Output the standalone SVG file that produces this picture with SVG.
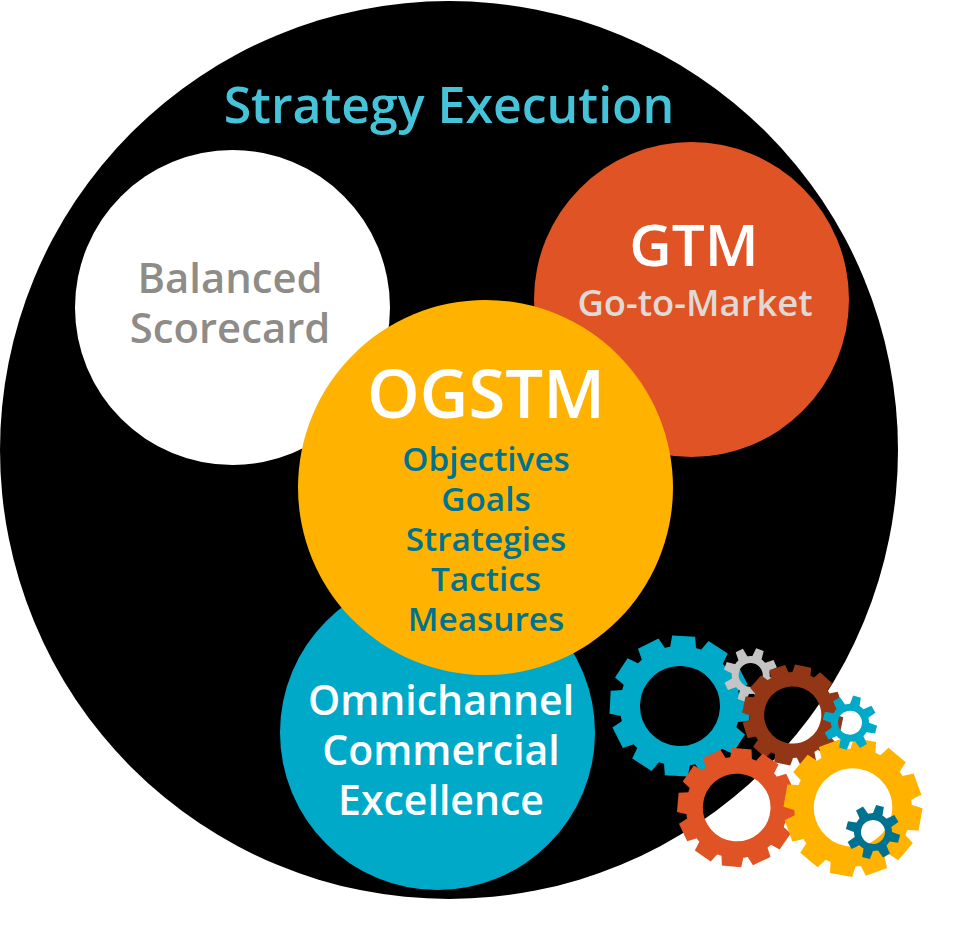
<svg xmlns="http://www.w3.org/2000/svg" width="963" height="941" viewBox="0 0 963 941">
<style>
text{font-family:"Open Sans","Liberation Sans",sans-serif;font-weight:600;text-anchor:middle}
.r{fill:none}
</style>
<defs>
<polygon id="t12" points="-13,-58 -11.500,-70 11.500,-70 13,-58"/>
<polygon id="t8" points="-5,-17 -4,-27 4,-27 5,-17"/>
<g id="g12"><circle class="r" r="50" stroke-width="20" stroke="currentColor"/>
<g fill="currentColor"><use href="#t12"/><use href="#t12" transform="rotate(30)"/><use href="#t12" transform="rotate(60)"/><use href="#t12" transform="rotate(90)"/><use href="#t12" transform="rotate(120)"/><use href="#t12" transform="rotate(150)"/><use href="#t12" transform="rotate(180)"/><use href="#t12" transform="rotate(210)"/><use href="#t12" transform="rotate(240)"/><use href="#t12" transform="rotate(270)"/><use href="#t12" transform="rotate(300)"/><use href="#t12" transform="rotate(330)"/></g></g>
<g id="g8"><circle class="r" r="15.500" stroke-width="7" stroke="currentColor"/>
<g fill="currentColor"><use href="#t8"/><use href="#t8" transform="rotate(45)"/><use href="#t8" transform="rotate(90)"/><use href="#t8" transform="rotate(135)"/><use href="#t8" transform="rotate(180)"/><use href="#t8" transform="rotate(225)"/><use href="#t8" transform="rotate(270)"/><use href="#t8" transform="rotate(315)"/></g></g>
</defs>
<rect width="963" height="941" fill="#fff"/>
<circle id="outer" cx="449" cy="450" r="449" fill="#000"/>
<text x="449" y="123" font-size="50" fill="#45c4d9">Strategy Execution</text>
<g id="balanced"><circle cx="232.500" cy="307.500" r="157.500" fill="#fff"/>
<text x="230" y="293" font-size="41.800" fill="#8f8c88">Balanced</text><text x="230" y="343" font-size="41.800" fill="#8f8c88">Scorecard</text></g>
<g id="gtm"><circle cx="691.500" cy="299.500" r="157.500" fill="#df5325"/>
<text x="694" y="266" font-size="58.500" fill="#fff">GTM</text><text x="695" y="316" font-size="36.400" fill="#e3d9d4">Go-to-Market</text></g>
<g id="omni"><circle cx="437.500" cy="732.500" r="157.500" fill="#00a9c8"/>
<text x="441" y="715" font-size="41" fill="#fff">Omnichannel</text><text x="441" y="765" font-size="41" fill="#fff">Commercial</text><text x="441" y="815" font-size="41" fill="#fff">Excellence</text></g>
<g id="ogstm"><circle cx="485.500" cy="487.500" r="187.500" fill="#ffb200"/>
<text x="486" y="418" font-size="67" fill="#fff">OGSTM</text>
<g font-size="33.300" fill="#00728f"><text x="486" y="471">Objectives</text><text x="486" y="511">Goals</text><text x="486" y="551">Strategies</text><text x="486" y="591">Tactics</text><text x="486" y="631">Measures</text></g></g>
<g id="gears">
<use href="#g12" color="#00a9c8" transform="translate(680 706) rotate(3)"/>
<use href="#g8" color="#c4c4c4" transform="translate(750.700 675) rotate(20)"/>
<use href="#g12" color="#933616" transform="translate(792.700 715) rotate(12) scale(.714)"/>
<use href="#g12" color="#df5325" transform="translate(736.700 807.500) rotate(5) scale(.845)"/>
<use href="#g12" color="#ffb200" transform="translate(853 807.500) rotate(10) scale(.98)"/>
<use href="#g8" color="#00a9c8" transform="translate(850 722.700) rotate(15)"/>
<use href="#g8" color="#00728f" transform="translate(873 832) rotate(15)"/>
</g>
</svg>
